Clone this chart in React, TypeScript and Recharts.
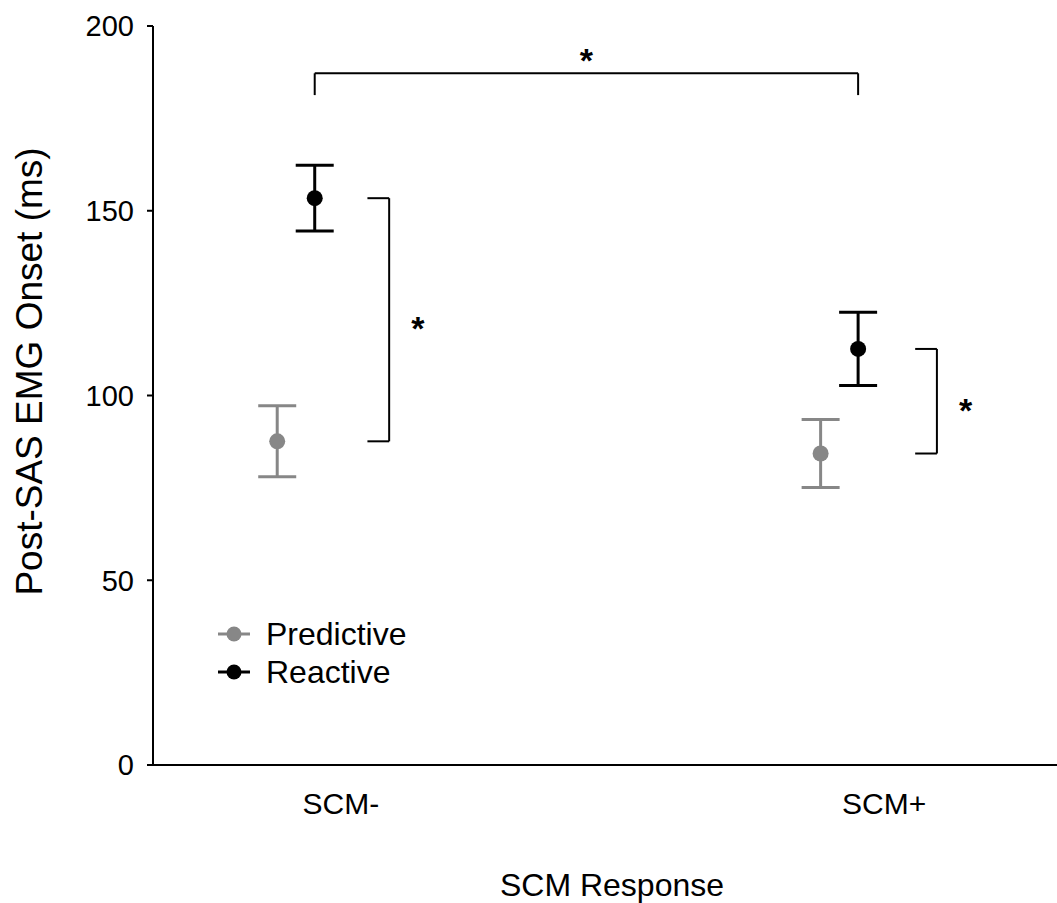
import React from 'react';
import {
  ComposedChart,
  Scatter,
  XAxis,
  YAxis,
  ErrorBar,
  ReferenceLine,
  ReferenceDot,
} from 'recharts';

// ---- data ----
const categories = ['SCM-', 'SCM+'];
const seriesNames = ['Predictive', 'Reactive'];
const predictiveMean = [87.6, 84.3];
const predictiveErr = [9.6, 9.2];
const reactiveMean = [153.4, 112.6];
const reactiveErr = [8.9, 9.9];
const yTicks = [0, 50, 100, 150, 200];
const sigLabel = '*';
const topBracketY = [187.2, 181.3]; // bar level, drop end

// ---- style constants ----
const FONT = '"Liberation Sans", Arial, Helvetica, sans-serif';
const COLORS = ['#878787', '#000000'];
const DODGE = [-0.117, -0.048];
const SIDE_BRACKET_X = [0.089, 0.097];
const SIDE_TICK = 0.04;
const STAR_GAP = 0.053;
const STAR_FS = 34;

const predData = categories.map((c, i) => ({ x: i + DODGE[0], y: predictiveMean[i], err: predictiveErr[i] }));
const reacData = categories.map((c, i) => ({ x: i + DODGE[1], y: reactiveMean[i], err: reactiveErr[i] }));

const dot = (color: string) => (p: any) => <circle cx={p.cx} cy={p.cy} r={8} fill={color} />;

const Star = (p: any) => (
  <text x={p.cx} y={p.cy + STAR_FS * 0.6} textAnchor="middle" fontSize={STAR_FS} fontWeight="bold" fontFamily={FONT} fill="#000">
    {sigLabel}
  </text>
);

const LegendBox = () => (
  <div style={{ position: 'absolute', left: 214, top: 615, fontFamily: FONT, fontSize: 32, color: '#000' }}>
    {seriesNames.map((n, i) => (
      <div key={n} style={{ display: 'flex', alignItems: 'center', height: 38 }}>
        <svg width={40} height={20} style={{ marginRight: 12 }}>
          <line x1={4} y1={10} x2={36} y2={10} stroke={COLORS[i]} strokeWidth={3} />
          <circle cx={20} cy={10} r={7.5} fill={COLORS[i]} />
        </svg>
        <span>{n}</span>
      </div>
    ))}
  </div>
);

export default function App() {
  const bracketStroke = { stroke: '#000', strokeWidth: 2 };
  return (
    <div style={{ position: 'absolute', left: 0, top: 0, width: 1057, height: 903, background: '#fff' }}>
      <ComposedChart width={1057} height={903} margin={{ top: 26, right: 0, bottom: 0, left: 0 }}>
        <XAxis
          type="number"
          dataKey="x"
          domain={[-0.3456, 1.318]}
          ticks={[0, 1]}
          allowDataOverflow
          tickFormatter={(v: number) => categories[Math.round(v)]}
          tickLine={false}
          tickSize={0}
          tickMargin={28}
          height={138}
          axisLine={{ stroke: '#000', strokeWidth: 2 }}
          tick={{ fill: '#000', fontSize: 30, fontFamily: FONT }}
          label={{
            content: (p: any) => {
              const vb = p.viewBox;
              return (
                <text x={vb.x + vb.width / 2 + 7} y={vb.y + vb.height - 7} textAnchor="middle" fontSize={32} fontFamily={FONT} fill="#000">
                  SCM Response
                </text>
              );
            },
          }}
        />
        <YAxis
          type="number"
          dataKey="y"
          domain={[0, 200]}
          ticks={yTicks}
          width={153}
          tickSize={6}
          tickMargin={13}
          axisLine={{ stroke: '#000', strokeWidth: 2 }}
          tickLine={{ stroke: '#000', strokeWidth: 2 }}
          tick={{ fill: '#000', fontSize: 29, fontFamily: FONT }}
          label={{
            content: (p: any) => {
              const vb = p.viewBox;
              const cx = 42;
              const cy = vb.y + vb.height / 2 - 24;
              return (
                <text x={cx} y={cy} transform={`rotate(-90 ${cx} ${cy})`} textAnchor="middle" fontSize={37} fontFamily={FONT} fill="#000">
                  Post-SAS EMG Onset (ms)
                </text>
              );
            },
          }}
        />

        {/* top significance bracket between reactive points */}
        <ReferenceLine segment={[{ x: reacData[0].x, y: topBracketY[1] }, { x: reacData[0].x, y: topBracketY[0] }]} {...bracketStroke} ifOverflow="visible" />
        <ReferenceLine segment={[{ x: reacData[0].x, y: topBracketY[0] }, { x: reacData[1].x, y: topBracketY[0] }]} {...bracketStroke} ifOverflow="visible" />
        <ReferenceLine segment={[{ x: reacData[1].x, y: topBracketY[0] }, { x: reacData[1].x, y: topBracketY[1] }]} {...bracketStroke} ifOverflow="visible" />
        <ReferenceDot x={(reacData[0].x + reacData[1].x) / 2} y={topBracketY[0] + 5.8} r={0} shape={Star} ifOverflow="visible" />

        {/* side brackets predictive vs reactive */}
        {categories.map((c, i) => {
          const bx = i + SIDE_BRACKET_X[i];
          const lo = predictiveMean[i];
          const hi = reactiveMean[i];
          return (
            <React.Fragment key={c}>
              <ReferenceLine segment={[{ x: bx - SIDE_TICK, y: hi }, { x: bx, y: hi }]} {...bracketStroke} ifOverflow="visible" />
              <ReferenceLine segment={[{ x: bx, y: hi }, { x: bx, y: lo }]} {...bracketStroke} ifOverflow="visible" />
              <ReferenceLine segment={[{ x: bx, y: lo }, { x: bx - SIDE_TICK, y: lo }]} {...bracketStroke} ifOverflow="visible" />
              <ReferenceDot x={bx + STAR_GAP} y={(lo + hi) / 2} r={0} shape={Star} ifOverflow="visible" />
            </React.Fragment>
          );
        })}

        <Scatter name={seriesNames[0]} data={predData} fill={COLORS[0]} isAnimationActive={false} shape={dot(COLORS[0])}>
          <ErrorBar dataKey="err" direction="y" width={19} strokeWidth={3} stroke={COLORS[0]} />
        </Scatter>
        <Scatter name={seriesNames[1]} data={reacData} fill={COLORS[1]} isAnimationActive={false} shape={dot(COLORS[1])}>
          <ErrorBar dataKey="err" direction="y" width={19} strokeWidth={3} stroke={COLORS[1]} />
        </Scatter>
      </ComposedChart>
      <LegendBox />
    </div>
  );
}
